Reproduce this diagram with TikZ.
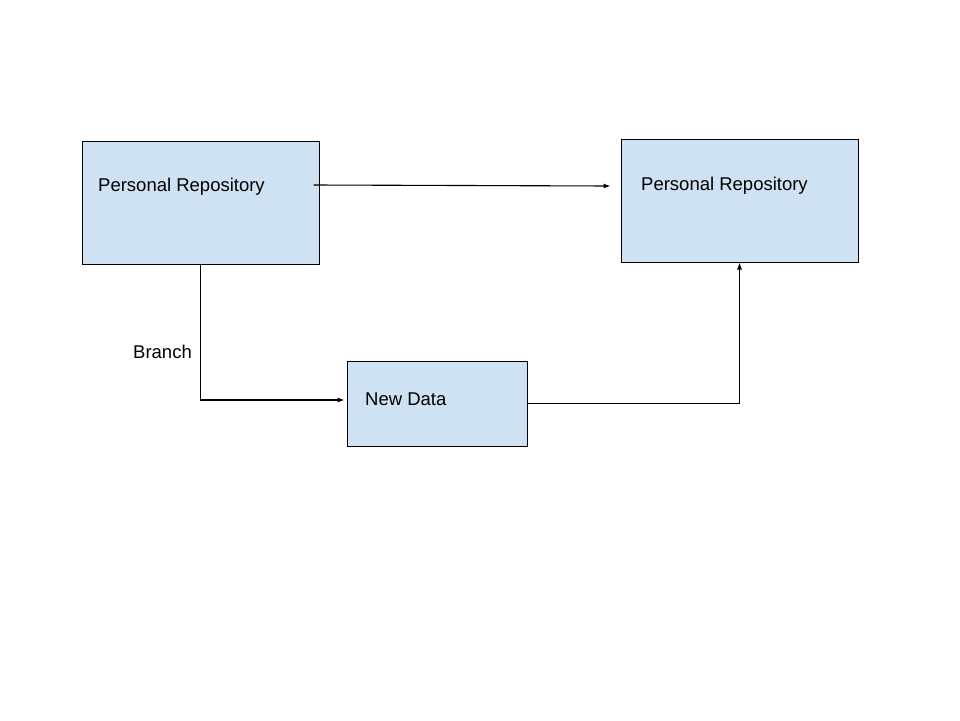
\documentclass[tikz,border=0pt]{standalone}
\usepackage{fontspec}
\setmainfont{Liberation Sans}
\usetikzlibrary{arrows.meta}
\definecolor{boxfill}{HTML}{CFE2F3}
\begin{document}
\begin{tikzpicture}[x=1pt,y=-1pt,
  box/.style={draw=black,fill=boxfill,line width=1pt,minimum width=#1,inner sep=0pt},
  lbl/.style={anchor=base west,inner sep=0pt,font=\fontsize{18.5}{22}\selectfont},
  conn/.style={draw=black,line width=1.1pt,-{Latex[length=7pt,width=5pt]}}]
\useasboundingbox[fill=white] (0,0) rectangle (960,720);
\node[box=237pt,minimum height=123pt] (A) at (200.5,202.5) {};
\node[box=237pt,minimum height=123pt] (B) at (739.5,200.5) {};
\node[box=180pt,minimum height=85pt] (C) at (437,403.5) {};
\node[lbl] (tA) at (98,191) {Personal Repository};
\node[lbl] (tB) at (641,190) {Personal Repository};
\node[lbl] (tC) at (365,405) {New Data};
\node[lbl] (br) at (133,358) {Branch};
\draw[conn] ([shift={(-6,-17.5)}]A.east) -- ([shift={(-10,-14.5)}]B.west);
\draw[conn] (A.south) |- ([shift={(-2,-3.5)}]C.west);
\draw[conn] (C.east) -| (B.south);
\end{tikzpicture}
\end{document}
